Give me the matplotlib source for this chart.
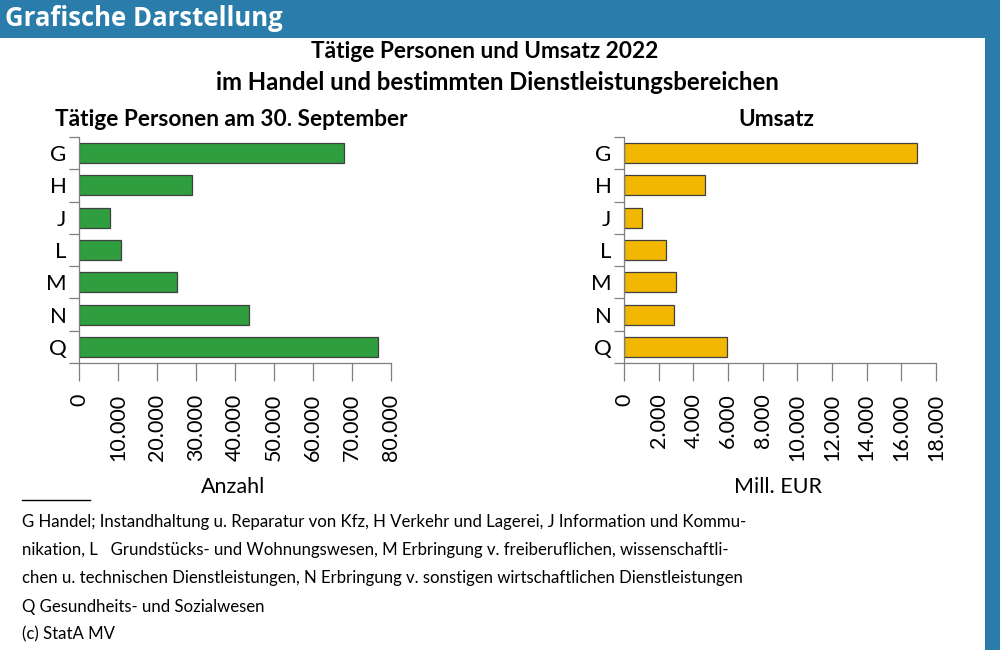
import matplotlib
matplotlib.use("Agg")
import matplotlib.pyplot as plt
from matplotlib.patches import Rectangle
from matplotlib.ticker import FuncFormatter, FixedLocator

categories = ["G", "H", "J", "L", "M", "N", "Q"]
personen = [68000, 28900, 8000, 10800, 25000, 43700, 76600]
umsatz = [16900, 4700, 1040, 2440, 3000, 2880, 5940]

title_1 = "Tätige Personen und Umsatz 2022"
title_2 = "im Handel und bestimmten Dienstleistungsbereichen"
footnote = [
    "G Handel; Instandhaltung u. Reparatur von Kfz, H Verkehr und Lagerei, J Information und Kommu-",
    "nikation, L   Grundstücks- und Wohnungswesen, M Erbringung v. freiberuflichen, wissenschaftli-",
    "chen u. technischen Dienstleistungen, N Erbringung v. sonstigen wirtschaftlichen Dienstleistungen",
    "Q Gesundheits- und Sozialwesen",
    "(c) StatA MV",
]

plt.rcParams["font.family"] = ["Lato", "DejaVu Sans"]

W, H = 1000, 650
fig = plt.figure(figsize=(10, 6.5), dpi=100)
blue = "#2a7cab"
axis_grey = "#7f7f7f"


def fy(y):
    return 1 - y / H


# header band and right strip
fig.add_artist(Rectangle((0, fy(38)), 1, 38 / H, transform=fig.transFigure,
                         facecolor=blue, edgecolor="none"))
fig.add_artist(Rectangle((985 / W, 0), 15 / W, 1, transform=fig.transFigure,
                         facecolor=blue, edgecolor="none"))
fig.text(5 / W, fy(19), "Grafische Darstellung", color="white", fontsize=18.5,
         fontweight="bold", family=["Open Sans", "DejaVu Sans"], va="center", ha="left")

fig.text(0.485, fy(51), title_1, fontsize=16.3, fontweight="bold", ha="center", va="center")
fig.text(0.4975, fy(82), title_2, fontsize=17.2, fontweight="bold", ha="center", va="center")


def draw_panel(left, values, color, xmax, step, subtitle, xlabel):
    ax = fig.add_axes([left / W, fy(363), 312 / W, 226 / H])
    pos = list(range(len(categories)))
    ax.barh(pos, values, height=0.62, color=color, edgecolor="#404040", linewidth=0.9)
    ax.set_ylim(len(categories) - 0.5, -0.5)
    ax.set_xlim(0, xmax)
    ax.set_yticks(pos)
    ax.set_yticklabels(categories)
    ax.yaxis.set_minor_locator(FixedLocator([p - 0.5 for p in range(len(categories) + 1)]))
    ax.tick_params(axis="y", which="major", length=0, pad=9, labelsize=16)
    ax.tick_params(axis="y", which="minor", length=7.5, color=axis_grey, width=0.9)
    ax.set_xticks(range(0, xmax + 1, step))
    ax.xaxis.set_major_formatter(FuncFormatter(lambda v, p: f"{int(v):,}".replace(",", ".")))
    ax.tick_params(axis="x", length=13, color=axis_grey, width=0.9, labelsize=15.5,
                   labelrotation=90, pad=9)
    for s in ["top", "right"]:
        ax.spines[s].set_visible(False)
    for s in ["left", "bottom"]:
        ax.spines[s].set_color(axis_grey)
        ax.spines[s].set_linewidth(0.9)
    cx = (left + 152) / W
    fig.text(cx, fy(120), subtitle, fontsize=16.3, fontweight="bold", ha="center", va="center")
    fig.text(cx + 0.002, fy(487), xlabel, fontsize=15.5, ha="center", va="center")
    return ax


draw_panel(79, personen, "#2e9e3e", 80000, 10000, "Tätige Personen am 30. September", "Anzahl")
draw_panel(624, umsatz, "#f2b700", 18000, 2000, "Umsatz", "Mill. EUR")

# footnote
fig.add_artist(plt.Line2D([22 / W, 90 / W], [fy(500), fy(500)], transform=fig.transFigure,
                          color="black", linewidth=1))
for i, line in enumerate(footnote):
    fig.text(22 / W, fy(522 + i * 28.2), line, fontsize=12.1, ha="left", va="center")

fig.savefig("out.png", dpi=100)
